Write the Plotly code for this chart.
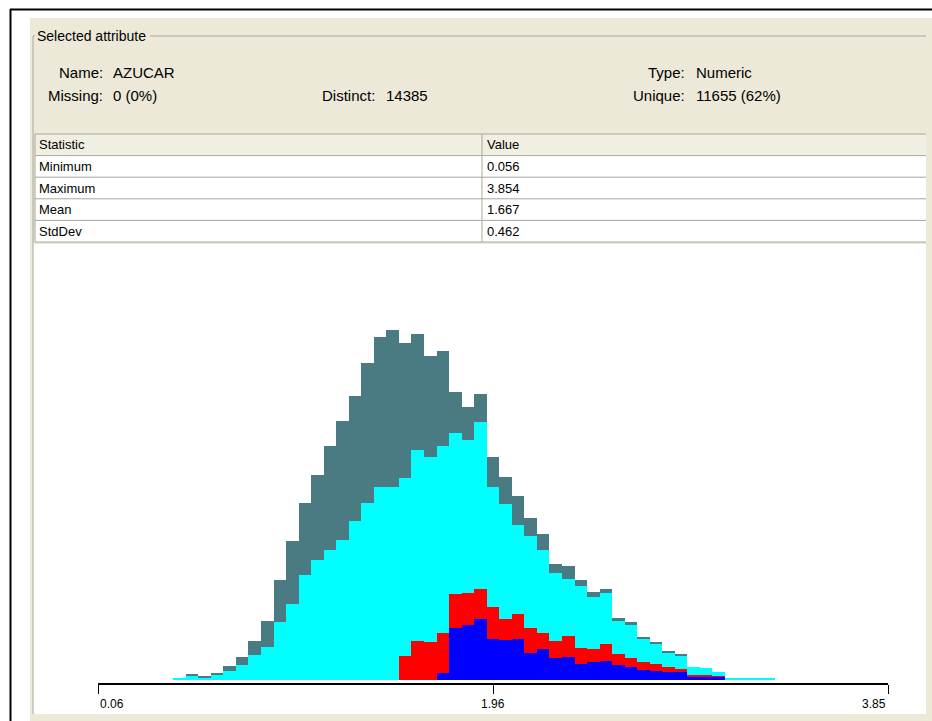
import plotly.graph_objects as go

# ---- attribute summary -------------------------------------------------
attr_name = "AZUCAR"
attr_type = "Numeric"
missing_text = "0 (0%)"
distinct_text = "14385"
unique_text = "11655 (62%)"

stat_names = ["Minimum", "Maximum", "Mean", "StdDev"]
stat_values = ["0.056", "3.854", "1.667", "0.462"]

attr_min = 0.056
attr_max = 3.854
n_bins = 63
tick_labels = ["0.06", "1.96", "3.85"]

# ---- per-class counts for each of the 63 bins (stacked bottom -> top) ---
class_blue = [0] * 27 + [19, 154, 164, 181, 120, 119, 122, 80, 91, 64, 68, 47,
                         53, 56, 42, 38, 29, 26, 23, 21, 10, 10, 9] + [0] * 13
class_red = [0] * 24 + [70, 116, 112, 120, 101, 96, 90, 98, 62, 74, 73, 47, 51,
                        63, 46, 39, 50, 35, 26, 23, 19, 14, 11, 3, 3, 2] + [0] * 13
class_cyan = [0] * 6 + [3, 10, 5, 13, 26, 43, 73, 98, 173, 226, 312, 358, 388,
                        418, 473, 529, 577, 575, 534, 572, 553, 560, 484, 457,
                        499, 359, 343, 265, 275, 251, 204, 170, 187, 154, 154,
                        99, 98, 70, 61, 43, 39, 23, 21, 11, 4, 3, 3, 3] + [0] * 9
class_slate = [0] * 7 + [6, 5, 7, 15, 25, 43, 77, 125, 188, 215, 253, 310, 355,
                         375, 419, 449, 471, 402, 345, 304, 285, 122, 99, 84, 88,
                         83, 87, 55, 47, 28, 40, 18, 17, 12, 7, 9, 6, 7, 5,
                         4] + [0] * 16

class_series = [
    (class_blue, "#0000FF"),
    (class_red, "#FF0000"),
    (class_cyan, "#00FFFF"),
    (class_slate, "rgb(75,123,130)"),
]

# ---- page geometry (pixels) --------------------------------------------
W, H = 932, 721
BEIGE = "#ECE9D8"
GRID = "#A9A79A"
FONT = "Liberation Sans"


def px(x):
    return x / W


def py(y):
    return 1 - y / H


bin_w = (attr_max - attr_min) / n_bins
centers = [attr_min + (i + 0.5) * bin_w for i in range(n_bins)]
totals = [sum(v) for v in zip(class_blue, class_red, class_cyan, class_slate)]
peak = max(totals)

# histogram placement
axis_y = 683.0      # axis line
base_y = 679.5      # bottom of the bars
top_y = 330.0       # top of the tallest bar
gap = (axis_y - base_y) / (base_y - top_y) * peak

fig = go.Figure()
for counts, colour in class_series:
    fig.add_trace(go.Bar(
        x=centers, y=counts, width=bin_w,
        marker=dict(color=colour, line=dict(width=0)),
        hoverinfo="skip", showlegend=False,
    ))

shapes = []
# outer frame
shapes.append(dict(type="line", xref="paper", yref="paper",
                   x0=px(10), x1=px(W), y0=py(9.5), y1=py(9.5),
                   line=dict(color="black", width=2)))
shapes.append(dict(type="line", xref="paper", yref="paper",
                   x0=px(10.5), x1=px(10.5), y0=py(9), y1=py(H),
                   line=dict(color="black", width=2)))
# beige window background
shapes.append(dict(type="rect", xref="paper", yref="paper", layer="below",
                   x0=px(30), x1=px(W), y0=py(18), y1=py(H),
                   fillcolor=BEIGE, line=dict(width=0)))
# white histogram panel
shapes.append(dict(type="rect", xref="paper", yref="paper", layer="below",
                   x0=px(33), x1=px(926), y0=py(244), y1=py(714),
                   fillcolor="white", line=dict(width=0)))
# group box outline
for x0, x1 in [(33, 35), (150, 926)]:
    shapes.append(dict(type="line", xref="paper", yref="paper",
                       x0=px(x0), x1=px(x1), y0=py(36), y1=py(36),
                       line=dict(color=GRID, width=1)))
shapes.append(dict(type="line", xref="paper", yref="paper",
                   x0=px(33), x1=px(33), y0=py(36), y1=py(714),
                   line=dict(color=GRID, width=1)))

# statistics table
tab_x0, tab_x1, col_x = 35, 926, 482
row_top = 134
row_h = 21.6
shapes.append(dict(type="rect", xref="paper", yref="paper",
                   x0=px(tab_x0), x1=px(tab_x1), y0=py(row_top),
                   y1=py(row_top + row_h), fillcolor="#F1EFE2",
                   line=dict(width=0)))
shapes.append(dict(type="rect", xref="paper", yref="paper",
                   x0=px(tab_x0), x1=px(tab_x1), y0=py(row_top + row_h),
                   y1=py(row_top + row_h * (len(stat_names) + 1)),
                   fillcolor="white", line=dict(width=0)))
for r in range(len(stat_names) + 2):
    yy = row_top + r * row_h
    shapes.append(dict(type="line", xref="paper", yref="paper",
                       x0=px(tab_x0), x1=px(tab_x1), y0=py(yy), y1=py(yy),
                       line=dict(color=GRID, width=1)))
shapes.append(dict(type="line", xref="paper", yref="paper",
                   x0=px(tab_x0), x1=px(tab_x0),
                   y0=py(row_top),
                   y1=py(row_top + row_h * (len(stat_names) + 1)),
                   line=dict(color=GRID, width=1)))
shapes.append(dict(type="line", xref="paper", yref="paper",
                   x0=px(col_x), x1=px(col_x),
                   y0=py(row_top),
                   y1=py(row_top + row_h * (len(stat_names) + 1)),
                   line=dict(color=GRID, width=1)))

annotations = []


def label(text, x, y, anchor="left", size=15):
    annotations.append(dict(text=text, x=px(x), y=py(y), xref="paper",
                            yref="paper", xanchor=anchor, yanchor="middle",
                            showarrow=False,
                            font=dict(family=FONT, size=size, color="black")))


label("Selected attribute", 35, 36, size=14)
label("Name:", 105, 73, "right")
label(attr_name, 111, 73)
label("Missing:", 105, 96, "right")
label(missing_text, 111, 96)
label("Distinct:", 377, 96, "right")
label(distinct_text, 384, 96)
label("Type:", 687, 73, "right")
label(attr_type, 694, 73)
label("Unique:", 687, 96, "right")
label(unique_text, 694, 96)

label("Statistic", 37, row_top + row_h / 2, size=13)
label("Value", 485, row_top + row_h / 2, size=13)
for i, (name, val) in enumerate(zip(stat_names, stat_values)):
    yc = row_top + row_h * (i + 1.5)
    label(name, 37, yc, size=13)
    label(val, 485, yc, size=13)

# axis tick labels: first left-aligned, middle centred, last right-aligned
tick_vals = [attr_min, (attr_min + attr_max) / 2, attr_max]
for val, txt, anchor in zip(tick_vals, tick_labels, ["left", "center", "right"]):
    annotations.append(dict(text=txt, x=val, y=py(704), xref="x",
                            yref="paper", xanchor=anchor, yanchor="middle",
                            showarrow=False,
                            font=dict(family=FONT, size=12, color="black")))

fig.update_layout(
    width=W, height=H,
    margin=dict(l=0, r=0, t=0, b=0),
    paper_bgcolor="white", plot_bgcolor="rgba(0,0,0,0)",
    barmode="stack", bargap=0,
    shapes=shapes, annotations=annotations,
    xaxis=dict(domain=[px(98), px(888)], range=[attr_min, attr_max],
               showline=True, linecolor="black", linewidth=2,
               ticks="outside", ticklen=9, tickwidth=1, tickcolor="black",
               tickvals=tick_vals, showticklabels=False,
               showgrid=False, zeroline=False, fixedrange=True),
    yaxis=dict(domain=[py(axis_y), py(top_y)], range=[-gap, peak],
               visible=False, fixedrange=True),
)

fig.write_html("out.html")
